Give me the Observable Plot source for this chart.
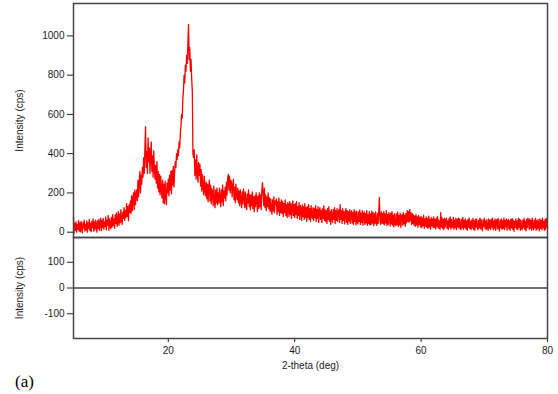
<!DOCTYPE html>
<html><head><meta charset="utf-8">
<script src="https://cdn.jsdelivr.net/npm/d3@7"></script>
<script src="https://cdn.jsdelivr.net/npm/@observablehq/plot@0.6"></script>
<style>
body{margin:0;background:#fff;}
#wrap{position:relative;width:558px;height:394px;font-family:"Liberation Sans",Arial,sans-serif;}
#top,#bot{position:absolute;left:0;}
#top{top:0}
#bot{top:227px}
#lab{position:absolute;left:15px;top:373px;font-family:"Liberation Serif",serif;font-size:17px;color:#000;line-height:1}
svg{overflow:visible}
</style></head><body>
<div id="wrap"><div id="top"></div><div id="bot"></div><div id="lab">(a)</div></div>
<script>
const xStart = 5, xStep = 0.1;
// intensity (cps) every 0.1 deg from 5 to 80 deg (one row per degree)
const intensity = [
78,-5,45,10,52,0,38,15,60,5,
48,2,55,18,-3,50,22,62,6,40,
12,58,0,48,20,65,8,45,2,55,
25,68,5,52,12,62,35,0,58,20,
65,10,48,72,8,60,25,70,15,52,
30,78,12,62,35,85,10,68,40,18,
75,25,90,35,68,20,88,45,98,30,
55,105,35,92,48,115,62,40,102,70,
125,60,110,75,145,80,130,58,140,100,
160,95,185,110,170,200,115,215,140,190,
215,160,265,180,250,310,200,290,245,330,
280,380,300,430,538,330,410,300,480,360,
430,300,400,460,310,390,280,415,330,270,
340,250,360,225,310,205,295,190,285,215,
175,265,150,245,145,260,185,140,250,200,
270,185,290,215,310,195,315,240,335,230,
300,360,330,400,370,420,390,460,430,500,
540,600,580,680,720,800,760,850,820,900,
860,960,1058,880,940,820,880,780,720,400,
380,420,290,370,270,395,310,255,355,290,
345,235,320,210,295,230,190,285,215,185,
255,170,245,155,230,265,160,240,145,220,
205,135,235,155,125,215,150,225,140,200,
150,225,165,130,215,155,240,135,210,175,
230,160,255,190,275,295,215,285,200,265,
250,180,240,270,165,230,150,245,185,165,
225,150,210,135,215,165,125,205,145,220,
185,125,205,140,115,195,150,215,130,190,
115,190,135,205,120,180,105,185,130,200,
165,105,185,120,200,130,190,115,215,253,
200,135,225,125,190,110,180,130,200,120,
175,105,170,120,92,165,110,180,100,160,
140,170,90,155,105,175,85,150,100,165,
95,155,80,145,100,165,85,140,75,150,
135,80,155,90,145,70,130,160,85,140,
75,145,90,155,70,130,85,150,65,135,
120,60,140,80,130,65,145,75,125,55,
130,75,140,65,120,55,135,80,70,125,
60,120,75,135,55,115,70,130,50,110,
125,65,110,50,120,70,135,60,115,55,
110,45,120,65,130,55,105,40,115,70,
50,115,65,125,45,110,60,120,55,105,
115,50,140,65,110,45,120,60,105,42,
100,120,50,110,40,105,57,115,45,95,
110,47,100,40,115,55,103,37,107,53,
43,105,55,113,40,97,50,110,35,93,
103,40,95,47,110,35,90,45,105,37,
93,40,107,47,100,33,95,43,103,50,
35,97,45,110,177,55,40,103,47,95,
43,105,37,93,47,110,33,90,40,100,
85,30,97,43,105,35,87,27,95,45,
33,93,40,103,30,85,37,97,25,83,
90,35,100,43,87,30,95,47,110,55,
105,50,115,60,100,40,95,45,88,35,
82,30,90,37,78,25,85,40,75,27,
80,23,72,33,85,20,68,30,78,25,
70,20,82,27,65,15,75,33,68,23,
78,25,65,17,72,30,80,20,62,27,
15,100,27,75,20,65,13,72,25,60,
72,20,58,15,68,27,78,17,65,23,
30,75,15,62,23,70,13,65,27,72,
20,68,27,13,65,23,75,15,60,25,
68,17,58,10,65,25,72,20,55,13,
62,23,70,15,58,10,65,27,68,20,
13,60,23,72,17,65,25,7,62,30,
70,20,58,13,65,25,10,68,20,60,
15,65,27,72,13,58,20,68,10,55,
65,17,70,25,7,62,23,68,15,58,
20,72,13,60,27,68,10,55,65,17,
58,10,65,23,70,15,62,5,55,25,
68,17,58,13,72,25,65,10,60,20,
13,62,25,70,15,55,7,65,23,72,
55,15,68,20,60,10,72,25,13,62,
23,70,10,58,17,65,27,7,68,20,
60,13,72,23,55,10,65,15,70,27,
30
];
const residual = [0];
const xTicks = [20, 40, 60, 80];
const yTicksUpper = [0, 200, 400, 600, 800, 1000];
const yTicksLower = [-100, 0, 100];
const xLabel = "2-theta (deg)";
const yLabel = "Intensity (cps)";

const pattern = intensity.map((v, i) => ({theta: +(xStart + i * xStep).toFixed(2), cps: v}));
const font = {fontSize: "10px", fontFamily: "'Liberation Sans', Arial, sans-serif", color: "#222", background: "transparent", overflow: "visible"};
const fmt = d => String(d);

const upper = Plot.plot({
  width: 558, height: 237,
  marginTop: 3, marginBottom: 0, marginLeft: 73, marginRight: 11,
  style: font,
  x: {domain: [5, 80], axis: null},
  y: {domain: [-27, 1165]},
  marks: [
    Plot.line(pattern, {x: "theta", y: "cps", stroke: "#ff0000", strokeWidth: 1.3}),
    Plot.axisY({ticks: yTicksUpper, tickFormat: fmt, tickSize: 6, tickPadding: 3, label: yLabel, labelAnchor: "center", labelArrow: "none", labelOffset: 58}),
    Plot.frame({stroke: "#444", strokeWidth: 1.5})
  ]
});
document.getElementById("top").append(upper);

const lower = Plot.plot({
  width: 558, height: 151,
  marginTop: 10, marginBottom: 40, marginLeft: 73, marginRight: 11,
  style: font,
  x: {domain: [5, 80]},
  y: {domain: [-196, 196]},
  marks: [
    Plot.ruleY(residual, {stroke: "#444", strokeWidth: 1.3}),
    Plot.axisX({ticks: xTicks, tickFormat: fmt, tickSize: 4, tickPadding: 4, label: xLabel, labelAnchor: "center", labelArrow: "none", labelOffset: 30}),
    Plot.axisY({ticks: yTicksLower, tickFormat: fmt, tickSize: 6, tickPadding: 3, label: yLabel, labelAnchor: "center", labelArrow: "none", labelOffset: 58}),
    Plot.frame({stroke: "#444", strokeWidth: 1.5})
  ]
});
document.getElementById("bot").append(lower);
</script>
</body></html>
